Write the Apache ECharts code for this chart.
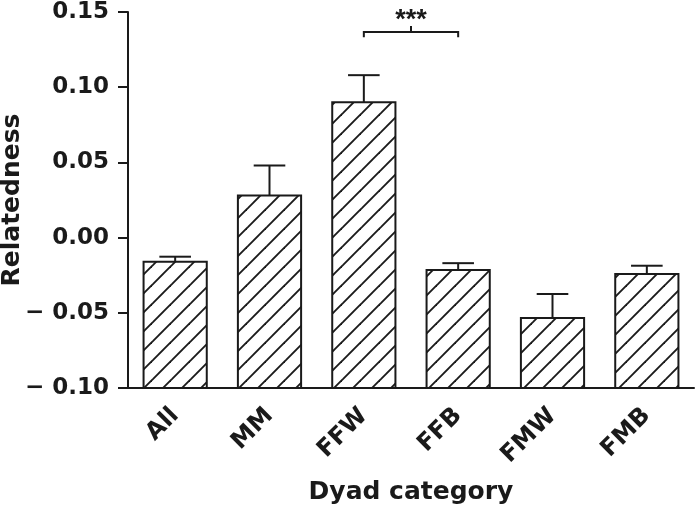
<!DOCTYPE html>
<html>
<head>
<meta charset="utf-8">
<script src="https://cdn.jsdelivr.net/npm/echarts@6/dist/echarts.min.js"></script>
<style>
  html, body { margin: 0; padding: 0; background: #fff; }
  #chart { width: 695px; height: 509px; }
</style>
</head>
<body>
<div id="chart"></div>
<script>
// data
const categories = ["All", "MM", "FFW", "FFB", "FMW", "FMB"];
const means = [-0.016, 0.028, 0.090, -0.0215, -0.0535, -0.0242];
const sems = [0.0033, 0.020, 0.018, 0.0045, 0.016, 0.0055];
const yTicks = [-0.10, -0.05, 0.00, 0.05, 0.10, 0.15];
// significance bracket between FFW and FFB
const sigPairs = [[2, 3]];
const sigLevels = [0.1367];
const sigLabels = ["***"];

const ink = "#1a1a1a";
const font = "DejaVu Sans";
const yMin = yTicks[0];
const yMax = yTicks[yTicks.length - 1];

// diagonal hatch tile
const makeHatch = () => {
  const c = document.createElement("canvas");
  const s = 19;
  c.width = s;
  c.height = s;
  const ctx = c.getContext("2d");
  ctx.fillStyle = "#fff";
  ctx.fillRect(0, 0, s, s);
  ctx.strokeStyle = ink;
  ctx.lineWidth = 1.9;
  [0, s, 2 * s].forEach((k) => {
    ctx.beginPath();
    ctx.moveTo(-2, k + 2);
    ctx.lineTo(k + 2, -2);
    ctx.stroke();
  });
  return c;
};
const hatch = makeHatch();

const barData = categories.map((c, i) => [i, means[i], means[i] + sems[i]]);
const sigData = sigPairs.map((p, i) => [p[0], p[1], sigLevels[i], sigLabels[i]]);

const chart = echarts.init(document.getElementById("chart"));
const option = {
  animation: false,
  grid: { left: 128, right: 1, top: 12, bottom: 121, outerBoundsMode: "none", containLabel: false },
  xAxis: {
    type: "category",
    data: categories,
    name: "Dyad category",
    nameLocation: "middle",
    nameGap: 92,
    nameMoveOverlap: false,
    nameTextStyle: { color: ink, fontFamily: font, fontWeight: "bold", fontSize: 25 },
    axisLine: { onZero: false, lineStyle: { color: ink, width: 2 } },
    axisTick: { alignWithLabel: true, length: 10, lineStyle: { color: ink, width: 2 } },
    axisLabel: {
      rotate: 45,
      margin: 24,
      color: ink,
      fontFamily: font,
      fontWeight: "bold",
      fontSize: 24,
    },
  },
  yAxis: {
    type: "value",
    min: yMin,
    max: yMax,
    interval: 0.05,
    name: "Relatedness",
    nameLocation: "middle",
    nameRotate: 90,
    nameGap: 103,
    nameMoveOverlap: false,
    nameTextStyle: { color: ink, fontFamily: font, fontWeight: "bold", fontSize: 25 },
    splitLine: { show: false },
    axisLine: { show: true, lineStyle: { color: ink, width: 2 } },
    axisTick: { show: true, length: 10, lineStyle: { color: ink, width: 2 } },
    axisLabel: {
      margin: 19,
      color: ink,
      fontFamily: font,
      fontWeight: "bold",
      fontSize: 23,
      formatter: (v) => (v < -1e-9 ? "\u2212 " + Math.abs(v).toFixed(2) : Math.abs(v).toFixed(2)),
    },
  },
  series: [
    {
      type: "custom",
      data: barData,
      encode: { x: 0, y: [1, 2] },
      renderItem: (params, api) => {
        const i = api.value(0);
        const top = api.coord([i, api.value(1)]);
        const base = api.coord([i, yMin]);
        const err = api.coord([i, api.value(2)]);
        const w = api.size([1, 0])[0] * 0.67;
        const cap = w / 2;
        return {
          type: "group",
          children: [
            {
              type: "rect",
              shape: { x: top[0] - w / 2, y: top[1], width: w, height: base[1] - top[1] },
              style: { fill: { image: hatch, repeat: "repeat" }, stroke: ink, lineWidth: 2 },
            },
            {
              type: "line",
              shape: { x1: top[0], y1: top[1], x2: top[0], y2: err[1] },
              style: { stroke: ink, lineWidth: 2 },
            },
            {
              type: "line",
              shape: { x1: top[0] - cap / 2, y1: err[1], x2: top[0] + cap / 2, y2: err[1] },
              style: { stroke: ink, lineWidth: 2 },
            },
          ],
        };
      },
      z: 2,
    },
    {
      type: "custom",
      data: sigData,
      renderItem: (params, api) => {
        const a = api.coord([api.value(0), api.value(2)]);
        const b = api.coord([api.value(1), api.value(2)]);
        const leg = api.coord([api.value(0), api.value(2) - 0.0035])[1];
        const mid = (a[0] + b[0]) / 2;
        const tickTop = api.coord([api.value(0), api.value(2) + 0.004])[1];
        return {
          type: "group",
          children: [
            {
              type: "polyline",
              shape: { points: [[a[0], leg], [a[0], a[1]], [b[0], b[1]], [b[0], leg]] },
              style: { stroke: ink, lineWidth: 2, fill: null },
            },
            {
              type: "line",
              shape: { x1: mid, y1: a[1], x2: mid, y2: tickTop },
              style: { stroke: ink, lineWidth: 2 },
            },
            {
              type: "text",
              x: mid,
              y: tickTop + 8,
              style: {
                text: sigLabels[params.dataIndex],
                fill: ink,
                fontFamily: "Liberation Sans",
                fontWeight: "bold",
                fontSize: 27,
                align: "center",
                verticalAlign: "bottom",
              },
            },
          ],
        };
      },
      z: 3,
    },
  ],
};
chart.setOption(option);
</script>
</body>
</html>
